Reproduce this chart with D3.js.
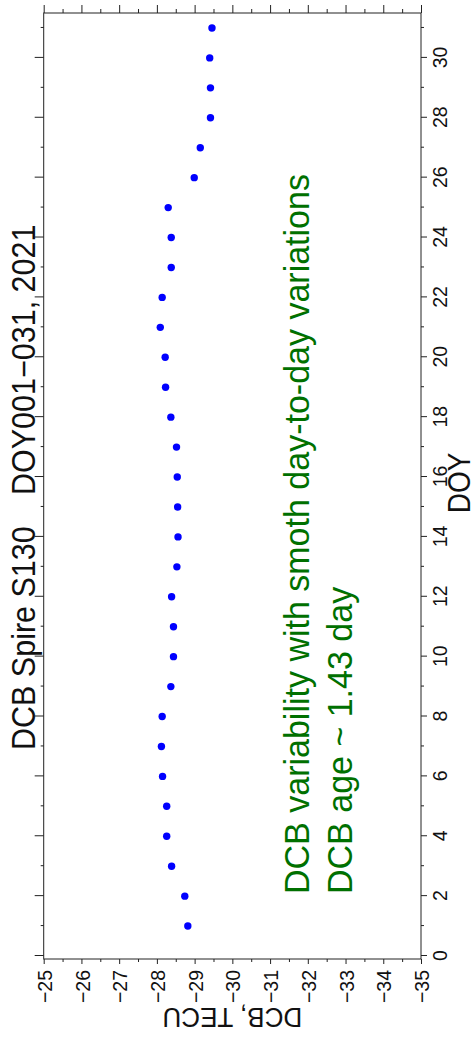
<!DOCTYPE html>
<html><head><meta charset="utf-8">
<script src="https://cdn.jsdelivr.net/npm/d3@7"></script>
<style>body{margin:0;background:#fff} svg{display:block}</style>
</head><body><svg id="c" width="475" height="1046"></svg>
<script>
// ---- data ----
const doy = [1,2,3,4,5,6,7,8,9,10,11,12,13,14,15,16,17,18,19,20,21,22,23,24,25,26,27,28,29,30,31];
const dcb = [-28.82,-28.74,-28.39,-28.26,-28.26,-28.15,-28.12,-28.14,-28.37,-28.44,-28.44,-28.39,-28.53,-28.56,-28.55,-28.54,-28.52,-28.37,-28.23,-28.22,-28.09,-28.14,-28.38,-28.38,-28.30,-28.99,-29.15,-29.42,-29.42,-29.40,-29.46];
const doyTicks = [0,2,4,6,8,10,12,14,16,18,20,22,24,26,28,30];
const doyMinor = [1,3,5,7,9,11,13,15,17,19,21,23,25,27,29,31];
const dcbTicks = [-25,-26,-27,-28,-29,-30,-31,-32,-33,-34,-35];
const dcbMinor = [-25.5,-26.5,-27.5,-28.5,-29.5,-30.5,-31.5,-32.5,-33.5,-34.5];
const titleParts = ["DCB Spire S130", "DOY001\u2212031, 2021"];
const notes = ["DCB variability with smoth day-to-day variations", "DCB age ~ 1.43 day"];
const xLabel = "DOY";
const yLabel = "DCB, TECU";

// ---- drawing (chart built unrotated, then rotated 90deg CCW) ----
const FONT = "'Liberation Sans', Arial, Helvetica, sans-serif";
const S = 1.08; // glyph stretch across the page width
const W = 1046, H = 475;
const svg = d3.select("#c");
const g = svg.append("g").attr("transform", `translate(0,${W}) rotate(-90)`);

const x = d3.scaleLinear().domain([-0.1, 31.5]).range([87, 1033]);
const y = d3.scaleLinear().domain([-35, -25]).range([421, 43.7]);

function clean(sel){ sel.select(".domain").remove(); sel.selectAll("line").attr("stroke","#222"); }

// bottom (DOY) axis
const xb = g.append("g").attr("transform",`translate(0,${y(-35)})`)
  .call(d3.axisBottom(x).tickValues(doyTicks).tickSize(6).tickFormat(d3.format("d")))
  .call(clean);
xb.selectAll("text").attr("y", 26.5 / S).attr("dy", 0).attr("transform", `scale(1,${S})`)
  .attr("font-size", 19.5).attr("font-family", FONT).attr("fill","#111");
g.append("g").attr("transform",`translate(0,${y(-35)})`)
  .call(d3.axisBottom(x).tickValues(doyMinor).tickSize(3).tickFormat(""))
  .call(clean);
// top axis
g.append("g").attr("transform",`translate(0,${y(-25)})`)
  .call(d3.axisTop(x).tickValues(doyTicks).tickSize(9).tickFormat(""))
  .call(clean);
g.append("g").attr("transform",`translate(0,${y(-25)})`)
  .call(d3.axisTop(x).tickValues(doyMinor).tickSize(3).tickFormat(""))
  .call(clean);
// left (DCB) axis
const yl = g.append("g").attr("transform",`translate(${x.range()[0]},0)`)
  .call(d3.axisLeft(y).tickValues(dcbTicks).tickSize(5).tickFormat(d => d3.format("d")(d).replace("-", "\u2212")))
  .call(clean);
yl.selectAll("text").attr("x", -11).attr("dy", "0.36em").attr("transform", `scale(1,${S})`)
  .attr("font-size", 19.5).attr("font-family", FONT).attr("fill","#111");
yl.selectAll(".tick").each(function(){
  const t = d3.select(this); const m = /translate\(([^,]+),([^)]+)\)/.exec(t.attr("transform"));
  t.attr("transform", `translate(${m[1]},${m[2]})`);
  t.select("text").attr("y", 0);
});
g.append("g").attr("transform",`translate(${x.range()[0]},0)`)
  .call(d3.axisLeft(y).tickValues(dcbMinor).tickSize(3).tickFormat(""))
  .call(clean);
// right axis
g.append("g").attr("transform",`translate(${x.range()[1]},0)`)
  .call(d3.axisRight(y).tickValues(dcbTicks).tickSize(8).tickFormat(""))
  .call(clean);
g.append("g").attr("transform",`translate(${x.range()[1]},0)`)
  .call(d3.axisRight(y).tickValues(dcbMinor).tickSize(4).tickFormat(""))
  .call(clean);

// frame
g.append("rect").attr("x", x.range()[0]).attr("y", y(-25))
  .attr("width", x.range()[1]-x.range()[0]).attr("height", y(-35)-y(-25))
  .attr("fill","none").attr("stroke","#222").attr("stroke-width",1);

// points
g.append("g").selectAll("circle").data(doy).join("circle")
  .attr("cx", (d,i) => x(d)).attr("cy", (d,i) => y(dcb[i])).attr("r", 3.7).attr("fill", "#0000ff");

// title
const titleX = [296, 551];
g.append("g").selectAll("text").data(titleParts).join("text")
  .attr("transform", (d,i) => `translate(${titleX[i]},34.5) scale(1,${S})`)
  .attr("font-size", 30.5).attr("font-family", FONT).attr("fill","#111").text(d => d);

// notes
const noteY = [308.5, 352];
g.append("g").selectAll("text").data(notes).join("text")
  .attr("transform", (d,i) => `translate(152,${noteY[i]}) scale(1,1.05)`)
  .attr("font-size", 34).attr("font-family", FONT).attr("fill","#007000").text(d => d);

// axis labels
g.append("text").attr("transform", `translate(${(x.range()[0]+x.range()[1])/2 + 3},470) scale(1,1.1)`)
  .attr("text-anchor","middle").attr("font-size", 28).attr("font-family", FONT).attr("fill","#111").text(xLabel);
g.append("text").attr("transform", `translate(38,${(y(-25)+y(-35))/2}) rotate(-90) scale(1,${S})`)
  .attr("text-anchor","middle").attr("font-size", 26).attr("font-family", FONT).attr("fill","#111").text(yLabel);
</script></body></html>
